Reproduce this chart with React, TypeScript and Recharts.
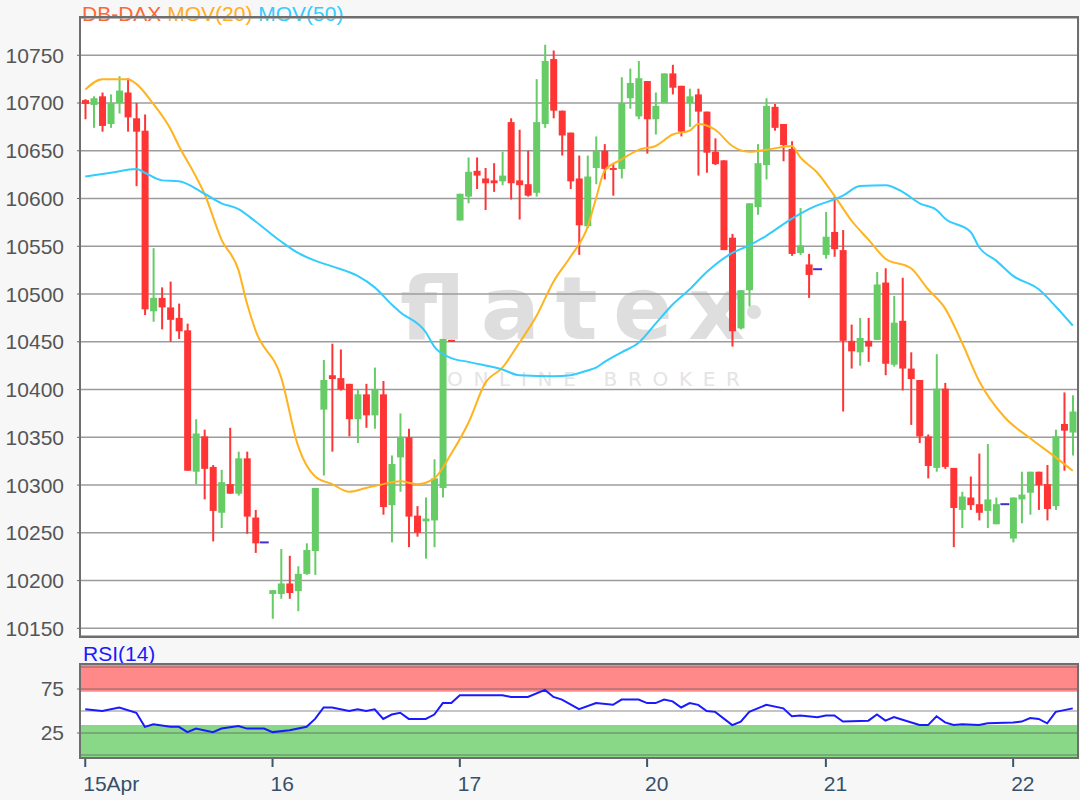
import React from "react"
import {
  ComposedChart,
  Bar,
  Line,
  XAxis,
  YAxis,
  CartesianGrid,
  ReferenceArea,
  ReferenceLine,
} from "recharts"

const FONT = '"Liberation Sans", Arial, sans-serif'
const RED = "#ff3535"
const GREEN = "#66cc66"
const DOJI = "#4030d0"

// day labels on the RSI axis and the candle index where each day starts
const dayLabels = ["15Apr", "16", "17", "20", "21", "22"]
const dayStarts = [0, 22, 44, 66, 87, 109]

const priceTicks = [10150, 10200, 10250, 10300, 10350, 10400, 10450, 10500, 10550, 10600, 10650, 10700, 10750]
const rsiTicks = [25, 75]

// half-hour candles, 15 Apr - 22 Apr
const opens = [
  10703, 10698, 10707, 10678, 10700, 10711, 10684, 10671, 10482, 10496, 10486, 10475, 10462, 10314, 10351, 10319, 10271, 10301, 10291, 10328, 10266, 10240,
  10186, 10186, 10197, 10189, 10207, 10231, 10379, 10415, 10412, 10406, 10369, 10395, 10373, 10395, 10279, 10329, 10350, 10268, 10262, 10263, 10297, 10452,
  10577, 10602, 10629, 10621, 10619, 10618, 10680, 10619, 10615, 10606, 10678, 10746, 10692, 10669, 10621, 10571, 10632, 10650, 10632, 10631, 10705, 10686,
  10723, 10683, 10700, 10731, 10718, 10700, 10709, 10691, 10649, 10640, 10559, 10464, 10504, 10591, 10635, 10696, 10678, 10652, 10543, 10531, 10526, 10541,
  10565, 10546, 10451, 10439, 10451, 10452, 10512, 10426, 10472, 10422, 10410, 10351, 10318, 10401, 10318, 10274, 10287, 10280, 10273, 10259, 10280, 10244,
  10285, 10292, 10314, 10301, 10278, 10364, 10355,
]
const highs = [
  10704, 10707, 10711, 10709, 10728, 10726, 10700, 10688, 10548, 10507, 10513, 10490, 10469, 10369, 10358, 10321, 10316, 10360, 10335, 10335, 10274, 10240,
  10190, 10233, 10226, 10215, 10239, 10297, 10431, 10448, 10442, 10406, 10400, 10406, 10423, 10409, 10331, 10375, 10359, 10278, 10287, 10327, 10453, 10452,
  10605, 10643, 10643, 10632, 10637, 10649, 10684, 10672, 10650, 10725, 10761, 10755, 10692, 10669, 10645, 10645, 10665, 10657, 10636, 10727, 10736, 10744,
  10723, 10711, 10731, 10740, 10718, 10715, 10715, 10691, 10663, 10640, 10563, 10504, 10595, 10657, 10705, 10699, 10678, 10660, 10590, 10542, 10526, 10586,
  10602, 10567, 10468, 10475, 10475, 10523, 10527, 10498, 10517, 10439, 10410, 10353, 10437, 10407, 10318, 10293, 10309, 10333, 10343, 10287, 10280, 10287,
  10314, 10314, 10314, 10321, 10358, 10397, 10394,
]
const lows = [
  10683, 10674, 10670, 10674, 10689, 10670, 10613, 10478, 10471, 10463, 10450, 10453, 10315, 10301, 10285, 10241, 10255, 10291, 10289, 10249, 10229, 10240,
  10160, 10181, 10181, 10168, 10206, 10206, 10310, 10335, 10399, 10351, 10344, 10360, 10359, 10269, 10240, 10293, 10235, 10246, 10223, 10235, 10287, 10450,
  10577, 10595, 10610, 10588, 10607, 10614, 10599, 10578, 10602, 10602, 10674, 10684, 10645, 10610, 10541, 10569, 10615, 10620, 10603, 10621, 10694, 10683,
  10647, 10667, 10700, 10709, 10665, 10675, 10624, 10627, 10635, 10546, 10445, 10463, 10487, 10583, 10620, 10671, 10639, 10540, 10541, 10496, 10526, 10537,
  10539, 10377, 10422, 10425, 10429, 10452, 10415, 10424, 10399, 10363, 10344, 10307, 10314, 10317, 10235, 10255, 10274, 10263, 10255, 10259, 10280, 10240,
  10260, 10269, 10274, 10263, 10274, 10315, 10331,
]
const closes = [
  10699, 10705, 10676, 10700, 10713, 10685, 10670, 10484, 10496, 10486, 10473, 10461, 10315, 10354, 10317, 10273, 10303, 10291, 10328, 10267, 10239, 10240,
  10190, 10197, 10187, 10207, 10232, 10297, 10410, 10411, 10400, 10369, 10395, 10373, 10400, 10277, 10322, 10350, 10267, 10250, 10265, 10307, 10453, 10450,
  10605, 10628, 10624, 10616, 10616, 10624, 10616, 10614, 10603, 10680, 10744, 10692, 10666, 10618, 10572, 10623, 10650, 10631, 10630, 10700, 10721, 10726,
  10683, 10697, 10731, 10716, 10670, 10707, 10691, 10648, 10636, 10546, 10461, 10504, 10595, 10637, 10697, 10674, 10656, 10542, 10551, 10520, 10526, 10560,
  10547, 10451, 10440, 10454, 10445, 10510, 10427, 10470, 10422, 10411, 10351, 10320, 10401, 10319, 10276, 10288, 10279, 10271, 10285, 10280, 10280, 10287,
  10290, 10314, 10300, 10275, 10351, 10357, 10377,
]

// moving averages and RSI, read at [candle index, value]
const ma20Pts = [
  [0, 10714], [2, 10725], [5, 10725], [6, 10720], [8, 10699], [10, 10673], [11, 10655], [13, 10623], [14, 10605], [16, 10557],
  [18, 10525], [19, 10490], [20, 10462], [23, 10413], [25, 10341], [27, 10309], [29, 10301], [31, 10293], [33, 10297], [35, 10301],
  [37, 10304], [39, 10301], [41, 10307], [43, 10333], [45, 10365], [47, 10407], [49, 10423], [51, 10449], [53, 10477], [55, 10513],
  [57, 10539], [59, 10570], [60, 10600], [61, 10629], [63, 10641], [65, 10651], [67, 10655], [69, 10667], [71, 10671], [72, 10678],
  [74, 10672], [76, 10655], [78, 10649], [80, 10651], [83, 10655], [84, 10643], [86, 10627], [88, 10603], [90, 10577], [92, 10557],
  [94, 10537], [97, 10527], [99, 10505], [101, 10485], [103, 10449], [105, 10409], [108, 10371], [111, 10349], [114, 10329], [116, 10315],
]
const ma50Pts = [
  [0, 10623], [3, 10627], [6, 10631], [7, 10627], [9, 10619], [11, 10618], [14, 10605], [16, 10595], [18, 10589], [20, 10576],
  [23, 10555], [25, 10543], [27, 10535], [29, 10529], [32, 10519], [34, 10507], [36, 10489], [37, 10481], [40, 10460], [41, 10445],
  [43, 10433], [45, 10429], [49, 10421], [51, 10415], [55, 10414], [57, 10415], [59, 10420], [60, 10423], [61, 10429], [63, 10439],
  [65, 10449], [67, 10469], [69, 10489], [71, 10505], [73, 10523], [76, 10543], [78, 10551], [80, 10561], [83, 10579], [85, 10589],
  [89, 10603], [91, 10613], [94, 10614], [96, 10607], [98, 10595], [100, 10588], [101, 10579], [104, 10565], [105, 10549], [107, 10535],
  [109, 10519], [112, 10505], [114, 10487], [116, 10467],
]
const rsiPts = [
  [0, 52], [2, 50], [4, 54], [6, 48], [7, 32], [8, 35], [10, 32], [11, 32], [12, 26], [13, 30], [15, 26], [16, 30], [18, 33], [19, 30],
  [21, 30], [22, 26], [24, 28], [26, 32], [27, 41], [28, 54], [29, 54], [31, 50], [32, 52], [33, 50], [34, 52], [35, 41], [36, 46],
  [37, 48], [38, 41], [40, 41], [41, 46], [42, 59], [43, 59], [44, 68], [49, 68], [50, 66], [52, 66], [54, 74], [55, 66], [56, 63],
  [58, 52], [60, 59], [62, 57], [63, 63], [65, 63], [66, 59], [67, 59], [68, 63], [69, 61], [70, 54], [71, 59], [72, 57], [73, 50],
  [74, 49], [76, 34], [77, 38], [78, 49], [80, 57], [82, 53], [83, 44], [84, 45], [86, 43], [87, 45], [88, 45], [89, 38], [92, 39],
  [93, 46], [94, 39], [95, 43], [96, 40], [98, 34], [99, 34], [100, 44], [101, 37], [102, 34], [103, 35], [105, 34], [106, 36],
  [109, 37], [110, 38], [111, 42], [112, 41], [113, 36], [114, 49], [115, 51], [116, 53],
]

type Row = {
  i: number
  open: number
  high: number
  low: number
  close: number
  range: [number, number]
  ma20: number | null
  ma50: number | null
  rsi: number | null
}

const rows: Row[] = opens.map((open, i) => ({
  i,
  open,
  high: highs[i],
  low: lows[i],
  close: closes[i],
  range: [lows[i], highs[i]],
  ma20: null,
  ma50: null,
  rsi: null,
}))
for (const [i, v] of ma20Pts) rows[i].ma20 = v
for (const [i, v] of ma50Pts) rows[i].ma50 = v
for (const [i, v] of rsiPts) rows[i].rsi = v

// eslint-disable-next-line @typescript-eslint/no-explicit-any
function Candle(props: any) {
  const { x, y, width, height, payload } = props
  if (x == null || y == null || !payload) return null
  const top = Math.min(y, y + height)
  const h = Math.abs(height)
  const { open, close, high, low } = payload as Row
  if (high === low) {
    return <line x1={x - 1} x2={x + width + 1} y1={top} y2={top} stroke={DOJI} strokeWidth={2} />
  }
  const ppu = h / (high - low)
  const yO = top + (high - open) * ppu
  const yC = top + (high - close) * ppu
  const color = close >= open ? GREEN : RED
  const cx = x + width / 2
  return (
    <g>
      <line x1={cx} x2={cx} y1={top} y2={top + h} stroke={color} strokeWidth={2} />
      <rect x={x} y={Math.min(yO, yC)} width={width} height={Math.max(Math.abs(yO - yC), 2)} fill={color} />
    </g>
  )
}

// eslint-disable-next-line @typescript-eslint/no-explicit-any
function DayTick(props: any) {
  const { x, y, payload } = props
  const k = dayStarts.indexOf(payload.value)
  return (
    <g>
      <line x1={x} x2={x} y1={y + 1} y2={y + 10} stroke="#3d566b" strokeWidth={2} />
      <text x={x - 2} y={y + 34} fill="#36506a" fontSize={21} fontFamily={FONT}>
        {dayLabels[k]}
      </text>
    </g>
  )
}

const yTick = { fill: "#555", fontSize: 21, fontFamily: FONT }

export default function App() {
  return (
    <div style={{ position: "absolute", left: 0, top: 0, width: 1080, height: 800, background: "#f7f7f7", overflow: "hidden" }}>
      {/* plot backgrounds */}
      <div style={{ position: "absolute", left: 81, top: 18, width: 996, height: 618, background: "#fff" }} />
      <div style={{ position: "absolute", left: 81, top: 665, width: 996, height: 92, background: "#fff" }} />

      {/* watermark and captions */}
      <svg width={1080} height={800} style={{ position: "absolute", left: 0, top: 0 }}>
        <text x={400} y={339} fontSize={88} fontWeight={700} fontFamily="DejaVu Sans" fill="#dedede" textLength={345} lengthAdjust="spacing">
          flatex
        </text>
        <circle cx={754} cy={312} r={7} fill="#dedede" />
        <text x={447} y={386} fontSize={20} fontFamily="DejaVu Sans" fill="#e4e4e4" textLength={293} lengthAdjust="spacing">
          ONLINE BROKER
        </text>
        <text x={82} y={21} fontSize={21} fontFamily={FONT}>
          <tspan fill="#ff6633">DB-DAX</tspan>
          <tspan fill="#ffad1f"> MOV(20)</tspan>
          <tspan fill="#33ccff"> MOV(50)</tspan>
        </text>
        <text x={83} y={661} fontSize={21} fontFamily={FONT} fill="#1a1aff">
          RSI(14)
        </text>
      </svg>

      <div style={{ position: "absolute", left: 0, top: 0 }}>
        <ComposedChart width={1080} height={640} data={rows} margin={{ top: 18, right: 3, bottom: 4, left: 1 }} barCategoryGap={0}>
          <CartesianGrid vertical={false} stroke="#9c9c9c" strokeWidth={1.5} />
          <XAxis dataKey="i" hide />
          <YAxis
            domain={[10142, 10789]}
            ticks={priceTicks}
            interval={0}
            allowDataOverflow
            width={80}
            axisLine={false}
            tickSize={4}
            tickMargin={13}
            tickLine={{ stroke: "#666" }}
            tick={yTick}
          />
          <Bar dataKey="range" barSize={7} shape={Candle} isAnimationActive={false} />
          <Line dataKey="ma20" type="monotone" stroke="#ffb31f" strokeWidth={2} dot={false} connectNulls isAnimationActive={false} />
          <Line dataKey="ma50" type="monotone" stroke="#33ccff" strokeWidth={2} dot={false} connectNulls isAnimationActive={false} />
        </ComposedChart>
      </div>

      <div style={{ position: "absolute", left: 0, top: 645 }}>
        <ComposedChart width={1080} height={154} data={rows} margin={{ top: 20, right: 3, bottom: 0, left: 1 }}>
          <ReferenceArea y1={72} y2={102.3} fill="#ff8888" fillOpacity={1} stroke="none" />
          <ReferenceArea y1={-2.3} y2={34} fill="#88d888" fillOpacity={1} stroke="none" />
          {[0, 25, 50, 75, 100].map((v) => (
            <ReferenceLine key={v} y={v} stroke="#555" strokeOpacity={0.45} strokeWidth={1.5} />
          ))}
          <XAxis
            dataKey="i"
            scale="band"
            ticks={dayStarts}
            interval={0}
            height={42}
            axisLine={false}
            tickLine={false}
            tickSize={0}
            tickMargin={0}
            tick={<DayTick />}
          />
          <YAxis
            domain={[-2.3, 102.3]}
            ticks={rsiTicks}
            interval={0}
            allowDataOverflow
            width={80}
            axisLine={false}
            tickSize={4}
            tickMargin={13}
            tickLine={{ stroke: "#666" }}
            tick={yTick}
          />
          <Line dataKey="rsi" type="linear" stroke="#1a1aff" strokeWidth={2} dot={false} connectNulls isAnimationActive={false} />
        </ComposedChart>
      </div>

      {/* frames */}
      <div style={{ position: "absolute", left: 79, top: 16, width: 996, height: 618, border: "2px solid #6e6e6e" }} />
      <div style={{ position: "absolute", left: 79, top: 663, width: 996, height: 92, border: "2px solid #6e6e6e" }} />
    </div>
  )
}
